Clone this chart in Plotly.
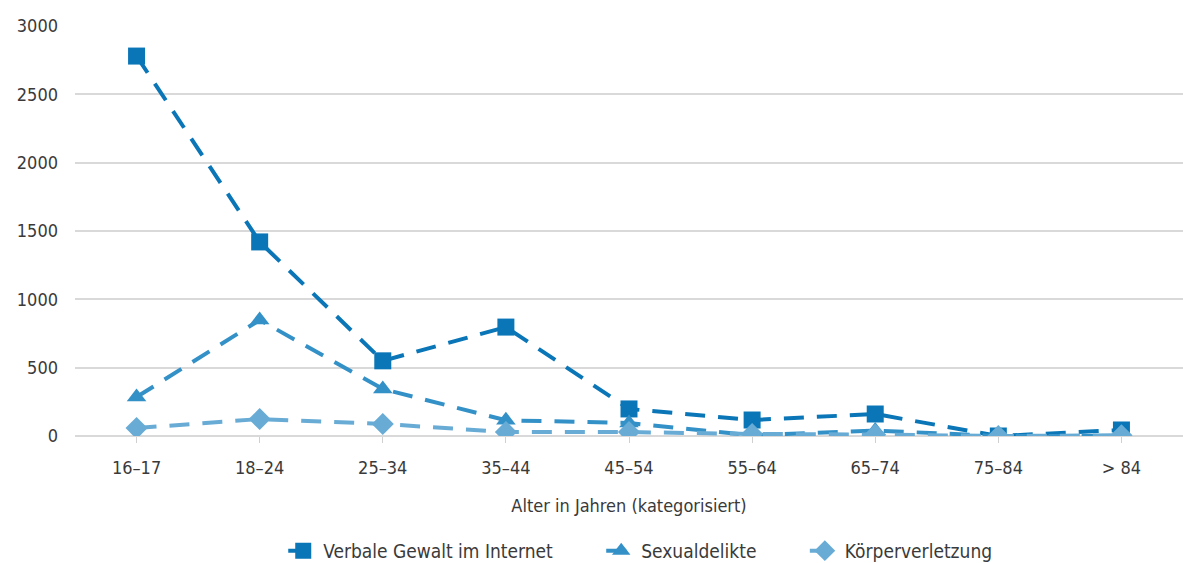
import plotly.graph_objects as go

categories = ["16–17", "18–24", "25–34", "35–44", "45–54", "55–64", "65–74", "75–84", "> 84"]
verbale = [2780, 1420, 550, 797, 198, 117, 161, 0, 44]
sexual = [285, 849, 344, 115, 95, 5, 40, 0, 0]
koerper = [58, 124, 88, 29, 29, 15, 10, 0, 5]
series_names = ["Verbale Gewalt im Internet", "Sexualdelikte", "Körperverletzung"]
y_ticks = [0, 500, 1000, 1500, 2000, 2500, 3000]

colors = ["#0a76b7", "#3391c7", "#68acd6"]
symbols = ["square", "triangle-up", "diamond"]
FONT = "DejaVu Sans Condensed, Liberation Sans Narrow, sans-serif"

fig = go.Figure()
for name, vals, col, sym in zip(series_names, [verbale, sexual, koerper], colors, symbols):
    fig.add_trace(go.Scatter(
        x=categories, y=vals, name=name + "\u00a0" * 8, mode="lines+markers",
        line=dict(color=col, width=4, dash="20px,13px"),
        marker=dict(symbol=sym, size=17, color=col),
    ))

fig.update_layout(
    width=1183, height=563,
    margin=dict(l=75, r=0, t=26, b=127, autoexpand=False),
    plot_bgcolor="white", paper_bgcolor="white",
    font=dict(family=FONT, size=18, color="#3a3a3a"),
    legend=dict(orientation="h", x=0.53, xanchor="center", y=-0.28, yanchor="middle",
                font=dict(size=19), traceorder="normal"),
    xaxis=dict(
        type="category", range=[-0.5, 8.5], showgrid=False, ticks="outside", ticklen=6,
        tickcolor="#d0d0d0", showline=False, zeroline=False,
        title=dict(text="Alter in Jahren (kategorisiert)", font=dict(size=18), standoff=22),
        tickfont=dict(size=18), ticklabelstandoff=9,
    ),
    yaxis=dict(
        range=[0, 3000], tickvals=y_ticks, gridcolor="#d9d9d9", gridwidth=2,
        zeroline=True, zerolinecolor="#d9d9d9", zerolinewidth=2,
        showline=False, tickfont=dict(size=18), ticks="", ticklabelstandoff=16,
    ),
)

fig.write_html("out.html", config={"displayModeBar": False},
               post_script="document.body.style.margin='0';document.body.style.overflow='hidden';")
